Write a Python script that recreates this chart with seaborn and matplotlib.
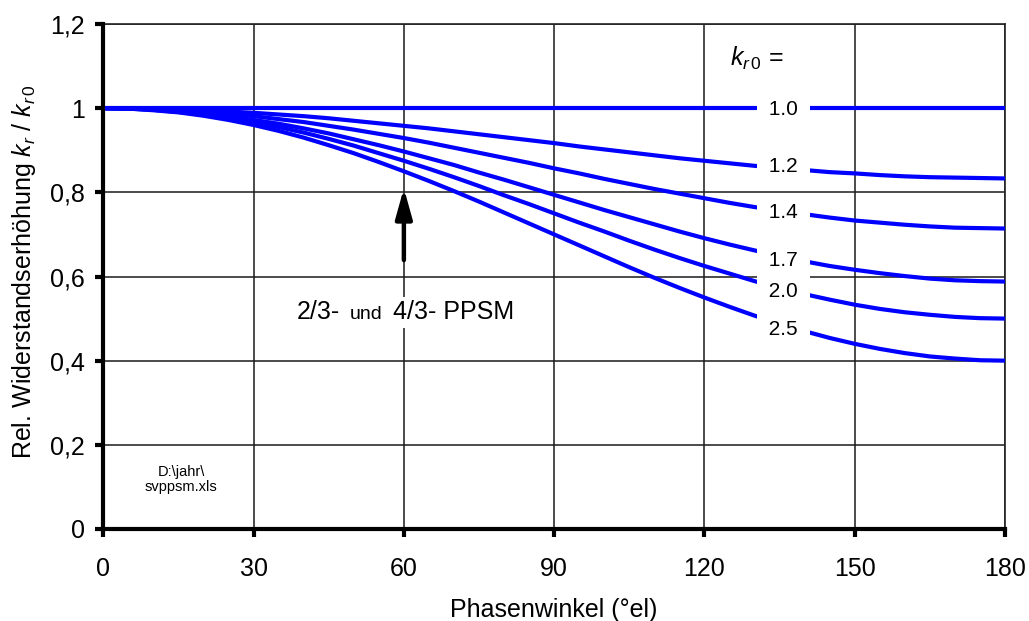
import matplotlib
matplotlib.use("Agg")
import matplotlib.pyplot as plt
import numpy as np
import pandas as pd
import seaborn as sns
from matplotlib.offsetbox import TextArea, HPacker, AnnotationBbox

# ---------------- data ----------------
phase_deg = [0, 5, 10, 15, 20, 25, 30, 35, 40, 45, 50, 55, 60, 65, 70, 75, 80, 85, 90,
             95, 100, 105, 110, 115, 120, 125, 130, 135, 140, 145, 150, 155, 160, 165,
             170, 175, 180]

kr0_labels = ["1.0", "1.2", "1.4", "1.7", "2.0", "2.5"]

ratio_10 = [1.0] * 37
ratio_12 = [1.000, 1.000, 0.999, 0.997, 0.995, 0.992, 0.989, 0.985, 0.981, 0.976,
            0.970, 0.964, 0.958, 0.952, 0.945, 0.938, 0.931, 0.924, 0.917,
            0.909, 0.902, 0.895, 0.888, 0.881, 0.875, 0.869, 0.863, 0.858, 0.853,
            0.848, 0.845, 0.841, 0.838, 0.836, 0.835, 0.834, 0.833]
ratio_14 = [1.000, 0.999, 0.998, 0.995, 0.991, 0.987, 0.981, 0.974, 0.967, 0.958,
            0.949, 0.939, 0.929, 0.918, 0.906, 0.894, 0.882, 0.870, 0.857,
            0.845, 0.832, 0.820, 0.808, 0.797, 0.786, 0.775, 0.765, 0.756, 0.748,
            0.740, 0.733, 0.728, 0.723, 0.719, 0.716, 0.715, 0.714]
ratio_17 = [1.000, 0.999, 0.997, 0.993, 0.988, 0.981, 0.972, 0.963, 0.952, 0.940,
            0.926, 0.912, 0.897, 0.881, 0.865, 0.847, 0.830, 0.812, 0.794,
            0.776, 0.758, 0.741, 0.724, 0.707, 0.691, 0.676, 0.662, 0.649, 0.636,
            0.625, 0.616, 0.608, 0.601, 0.595, 0.591, 0.589, 0.588]
ratio_20 = [1.000, 0.999, 0.996, 0.991, 0.985, 0.977, 0.967, 0.955, 0.942, 0.927,
            0.911, 0.893, 0.875, 0.856, 0.836, 0.815, 0.793, 0.772, 0.750,
            0.728, 0.707, 0.685, 0.664, 0.644, 0.625, 0.607, 0.589, 0.573, 0.558,
            0.545, 0.533, 0.523, 0.515, 0.509, 0.504, 0.501, 0.500]
ratio_25 = [1.000, 0.999, 0.995, 0.990, 0.982, 0.972, 0.960, 0.946, 0.930, 0.912,
            0.893, 0.872, 0.850, 0.827, 0.803, 0.778, 0.752, 0.726, 0.700,
            0.674, 0.648, 0.622, 0.597, 0.573, 0.550, 0.528, 0.507, 0.488, 0.470,
            0.454, 0.440, 0.428, 0.418, 0.410, 0.405, 0.401, 0.400]
all_ratios = [ratio_10, ratio_12, ratio_14, ratio_17, ratio_20, ratio_25]

x_ticks = [0, 30, 60, 90, 120, 150, 180]
y_ticks = [0, 0.2, 0.4, 0.6, 0.8, 1.0, 1.2]
y_tick_labels = ["0", "0,2", "0,4", "0,6", "0,8", "1", "1,2"]

# ---------------- layout (label placement) ----------------
label_x = 135.7
label_y = [0.996, 0.862, 0.751, 0.639, 0.565, 0.475]

rows = []
for lab, vals in zip(kr0_labels, all_ratios):
    for p, v in zip(phase_deg, vals):
        rows.append({"phi": p, "ratio": v, "kr0": lab})
df = pd.DataFrame(rows)

sns.set_style("ticks")
plt.rcParams["font.family"] = ["Liberation Sans", "DejaVu Sans"]
plt.rcParams["mathtext.fontset"] = "custom"
plt.rcParams["mathtext.rm"] = "Liberation Sans"
plt.rcParams["mathtext.it"] = "Liberation Sans:italic"
plt.rcParams["mathtext.bf"] = "Liberation Sans:bold"
plt.rcParams["text.color"] = "black"
plt.rcParams["axes.labelcolor"] = "black"
plt.rcParams["xtick.color"] = "black"
plt.rcParams["ytick.color"] = "black"

fig = plt.figure(figsize=(10.29, 6.21), dpi=100)
ax = fig.add_axes([103.3 / 1029, 1 - 529 / 621, 901.7 / 1029, 505 / 621])

ax.set_axisbelow(True)
ax.grid(True, color="#1a1a1a", linewidth=1.1)

sns.lineplot(data=df, x="phi", y="ratio", hue="kr0", palette=["#0000FF"] * 6,
             linewidth=3, legend=False, errorbar=None, ax=ax, zorder=3)

ax.set_xlim(0, 180)
ax.set_ylim(0, 1.2)
ax.set_xticks(x_ticks)
ax.set_xticklabels([str(t) for t in x_ticks])
ax.set_yticks(y_ticks)
ax.set_yticklabels(y_tick_labels)

for side in ["left", "bottom"]:
    ax.spines[side].set_linewidth(3)
    ax.spines[side].set_color("black")
    ax.spines[side].set_zorder(6)
for side in ["top", "right"]:
    ax.spines[side].set_visible(True)
    ax.spines[side].set_linewidth(1.2)
    ax.spines[side].set_color("#222222")

ax.tick_params(axis="both", direction="out", length=6, width=3, color="black",
               labelsize=18, labelcolor="black")
ax.tick_params(axis="x", pad=14)
ax.tick_params(axis="y", pad=7.5)

ax.set_xlabel("Phasenwinkel (°el)", fontsize=18, color="black")
ax.set_ylabel(r"Rel. Widerstandserhöhung $k_r$ / $k_{r\,0}$", fontsize=18, color="black")
ax.xaxis.set_label_coords(0.5, -0.136)
ax.yaxis.set_label_coords(-0.072, 0.51)

# curve labels with white boxes
for lab, yy in zip(kr0_labels, label_y):
    ax.text(label_x, yy, " " + lab + " ", fontsize=15, ha="center", va="center",
            color="black", zorder=5,
            bbox=dict(boxstyle="square,pad=0.3", fc="white", ec="none"))

ax.text(130.5, 1.119, r"$k_{r\,0}$ =", fontsize=18, ha="center", va="center",
        color="black", zorder=5)

ax.text(15.5, 0.118, "D:\\jahr\\\nsvppsm.xls", fontsize=10.5, ha="center", va="center",
        multialignment="center", linespacing=1.15, color="black", zorder=5)

# arrow
ax.annotate("", xy=(60, 0.81), xytext=(60, 0.639),
            arrowprops=dict(arrowstyle="-|>,head_length=0.9,head_width=0.25",
                            lw=3.2, color="black", mutation_scale=20,
                            shrinkA=0, shrinkB=0),
            zorder=5)

# mixed-size annotation text
t1 = TextArea("2/3-", textprops=dict(fontsize=18, color="black"))
t2 = TextArea("und", textprops=dict(fontsize=14, color="black"))
t3 = TextArea("4/3- PPSM", textprops=dict(fontsize=18, color="black"))
pack = HPacker(children=[t1, t2, t3], align="baseline", pad=0, sep=7)
ab = AnnotationBbox(pack, (60.3, 0.515), xycoords="data", frameon=True, pad=0.25,
                    box_alignment=(0.5, 0.5),
                    bboxprops=dict(fc="white", ec="none"))
ab.set_zorder(5)
ax.add_artist(ab)

fig.savefig("out.png", dpi=100)
